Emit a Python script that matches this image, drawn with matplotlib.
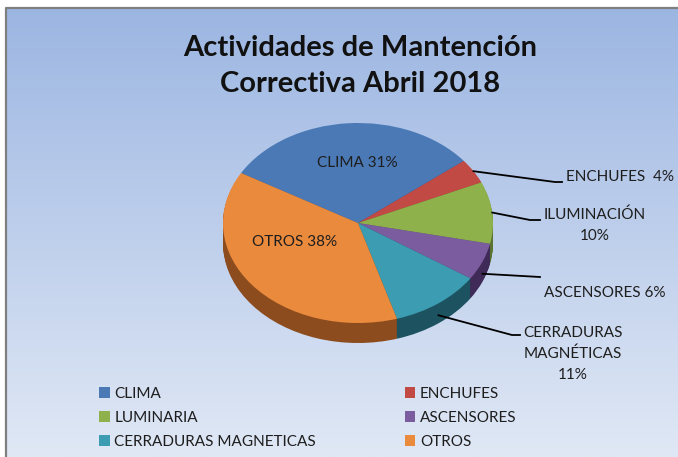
import numpy as np
import matplotlib.pyplot as plt
from matplotlib.colors import to_rgb

plt.rcParams['font.family'] = ['Lato', 'DejaVu Sans']

titulo = "Actividades de Mantención\nCorrectiva Abril 2018"
categorias = ["CLIMA", "ENCHUFES", "LUMINARIA", "ASCENSORES",
              "CERRADURAS MAGNETICAS", "OTROS"]
porcentajes = [31, 4, 10, 6, 11, 38]
etiquetas = ["CLIMA 31%", "ENCHUFES  4%", "ILUMINACIÓN\n10%", "ASCENSORES 6%",
             "CERRADURAS\nMAGNÉTICAS\n11%", "OTROS 38%"]
colores = ["#4a79b6", "#c24a45", "#8fb14c", "#7b5c9f", "#3b9cb2", "#ea8a3d"]
lados = ["#2d4f7c", "#7f2b28", "#5c7430", "#3f2a58", "#1d5361", "#8c4c1e"]

W, H = 678, 457
fig = plt.figure(figsize=(W / 100, H / 100), dpi=100)
fig.patch.set_facecolor('white')

# fondo con degradado
bg = fig.add_axes([0, 0, 1, 1])
t = np.linspace(0, 1, 256)[:, None, None]
c0 = np.array(to_rgb('#9cb6e2'))
c1 = np.array(to_rgb('#e0e8f5'))
bg.imshow(c0 + (c1 - c0) * t, extent=[6, W, H, 8], aspect='auto')
bg.plot([6, 6, W], [H, 8, 8], color='#7f7f7f', lw=1.6)
bg.set_xlim(0, W)
bg.set_ylim(H, 0)
bg.axis('off')

# pastel "3D": elipse rx=135, ry=100 px
cx, cy, rx, ry = 358, 223, 135, 100
prof = 0.2
ax = fig.add_axes([(cx - 1.5 * rx) / W, (H - (cy + 1.6 * ry)) / H,
                   3 * rx / W, 2.9 * ry / H])
for d in np.linspace(prof, 0.01, 20):
    ax.pie(porcentajes, colors=lados, startangle=150, counterclock=False,
           center=(0, -d), wedgeprops=dict(linewidth=0))
wedges, _ = ax.pie(porcentajes, colors=colores, startangle=150,
                   counterclock=False, wedgeprops=dict(linewidth=0))
ax.set_aspect('auto')
ax.set_xlim(-1.5, 1.5)
ax.set_ylim(-1.6, 1.3)
ax.axis('off')

# capa de textos en pixeles
ov = fig.add_axes([0, 0, 1, 1], zorder=5)
ov.set_xlim(0, W)
ov.set_ylim(H, 0)
ov.axis('off')
ov.patch.set_alpha(0)

ov.text(360, 66, titulo, ha='center', va='center', fontsize=21,
        fontweight='bold', linespacing=1.52, color='#111111')

fs = 11
txt = '#1e1e1e'
dentro = {0: (357, 163), 5: (295, 242)}
for i, (x, y) in dentro.items():
    ov.text(x, y, etiquetas[i], ha='center', va='center', fontsize=fs, color=txt)

fuera = {
    1: ((555, 182), (562, 182), (566, 177), 'left'),
    2: ((530, 220), (540, 220), (595, 225), 'center'),
    3: ((540, 277), (540, 277), (605, 293), 'center'),
    4: ((512, 335), (520, 335), (573, 354), 'center'),
}
inv = ov.transData.inverted()
for i, (codo, fin, pos, ha) in fuera.items():
    w = wedges[i]
    th = np.deg2rad((w.theta1 + w.theta2) / 2)
    x, y = np.cos(th), np.sin(th)
    if y < 0:
        y -= prof * 0.6
    sx, sy = inv.transform(ax.transData.transform((x, y)))
    ov.plot([sx, codo[0], fin[0]], [sy, codo[1], fin[1]], color='black', lw=1.3)
    ov.text(pos[0], pos[1], etiquetas[i], ha=ha, va='center', fontsize=fs,
            color=txt, linespacing=1.6)

orden = [0, 2, 4, 1, 3, 5]
leg = ov.legend([wedges[i] for i in orden], [categorias[i] for i in orden],
                ncol=2, loc='upper left', bbox_to_anchor=(99, 387),
                bbox_transform=ov.transData, frameon=False, fontsize=fs,
                handlelength=0.7, handleheight=0.7, handletextpad=0.3,
                columnspacing=5.8, labelspacing=0.65, borderpad=0,
                borderaxespad=0)
for tx in leg.get_texts():
    tx.set_color(txt)

fig.savefig('out.png', dpi=100)
